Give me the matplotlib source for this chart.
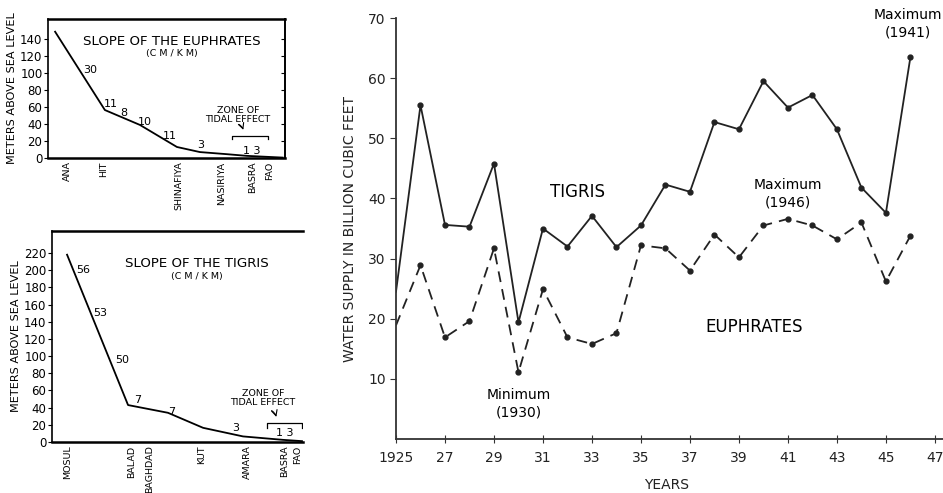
import matplotlib
matplotlib.use("Agg")
import matplotlib.pyplot as plt

# ---- main chart data (billion cubic feet) ----
years = list(range(1925, 1947))
tigris = [24.5, 55.5, 35.6, 35.3, 45.8, 19.4, 35.0, 32.0, 37.1, 31.9, 35.5,
          42.3, 41.1, 52.7, 51.5, 59.5, 55.1, 57.2, 51.5, 41.8, 37.6, 63.5]
euphrates = [18.9, 28.9, 16.9, 19.6, 31.7, 11.1, 24.9, 16.9, 15.8, 17.6, 32.2,
             31.7, 28.0, 34.0, 30.2, 35.5, 36.6, 35.5, 33.2, 36.0, 26.2, 33.8]
year_ticks = list(range(1925, 1948, 2))
year_labels = ["1925"] + [str(y)[2:] for y in year_ticks[1:]]

# ---- slope of the Euphrates (relative distance along river, metres) ----
eu_dist = [3, 24, 38.8, 54.4, 64.1, 75.5, 84, 99]
eu_elev = [149, 56.6, 39, 13, 7, 4.5, 2.5, 0.5]
eu_towns = ["ANA", "HIT", "SHINAFIYA", "NASIRIYA", "BASRA", "FAO"]
eu_town_pos = [8.4, 23.6, 55.3, 73.4, 86.5, 93.7]
eu_slopes = ["30", "11", "8", "10", "11", "3", "1 3"]
eu_slope_pos = [(18, 104), (26.5, 64), (32, 53), (41, 42), (51.5, 26), (64.5, 15), (86, 8)]

# ---- slope of the Tigris ----
ti_dist = [6, 30.3, 46.2, 60.2, 76.1, 92, 99.6]
ti_elev = [218, 43, 34, 16.5, 6.5, 2.5, 1]
ti_towns = ["MOSUL", "BALAD", "BAGHDAD", "KUT", "AMARA", "BASRA", "FAO"]
ti_town_pos = [6.4, 31.9, 39, 59.8, 77.7, 92.8, 98]
ti_slopes = ["56", "53", "50", "7", "7", "3", "1 3"]
ti_slope_pos = [(12.4, 200), (19, 150), (27.9, 96), (34, 49), (47.8, 35), (73.3, 16), (92.8, 10.5)]

W, H = 943, 493
fig = plt.figure(figsize=(W / 100, H / 100), dpi=100)
plt.rcParams['font.family'] = ['DejaVu Sans']


def px_axes(x0, y0, x1, y1):
    return fig.add_axes([x0 / W, 1 - y1 / H, (x1 - x0) / W, (y1 - y0) / H])


def slope_chart(ax, dist, elev, towns, town_pos, slopes, slope_pos, ytop, yticks,
                title, title_xy, zone_x, zone_y, zone_text_xy, arrow, right_spine):
    ax.plot(dist, elev, color="black", lw=1.3)
    ax.set_xlim(0, 100)
    ax.set_ylim(0, ytop)
    ax.set_yticks(yticks)
    ax.tick_params(axis="y", labelsize=8.5, length=3, direction="out", pad=1)
    ax.set_xticks(town_pos)
    ax.set_xticklabels(towns, rotation=90, fontsize=6.8, va="top")
    ax.tick_params(axis="x", length=0, pad=2.5)
    ax.set_ylabel("METERS ABOVE SEA LEVEL", fontsize=8.1, labelpad=2)
    for s in ["top", "bottom"]:
        ax.spines[s].set_linewidth(1.8)
    ax.spines["left"].set_linewidth(1.2)
    if right_spine:
        ax.spines["right"].set_linewidth(1.4)
        ax2 = ax.twinx()
        ax2.set_ylim(0, ytop)
        ax2.set_yticks(yticks[1:])
        ax2.tick_params(axis="y", direction="in", length=3, labelright=False)
        for s in ax2.spines.values():
            s.set_visible(False)
    else:
        ax.spines["right"].set_visible(False)
    for txt, (x, y) in zip(slopes, slope_pos):
        ax.text(x, y, txt, fontsize=8, ha="center", va="center")
    tx, ty1, ty2 = title_xy
    ax.text(tx, ty1, title, transform=ax.transAxes, fontsize=9.6,
            ha="center", va="center")
    ax.text(tx, ty2, "(C M / K M)", transform=ax.transAxes, fontsize=6.8,
            ha="center", va="center")
    zx0, zx1 = zone_x
    ax.text(zone_text_xy[0], zone_text_xy[1], "ZONE OF\nTIDAL EFFECT",
            fontsize=6.8, ha="center", va="bottom", linespacing=1.0)
    ax.plot([zx0, zx0, zx1, zx1],
            [zone_y - ytop * 0.025, zone_y, zone_y, zone_y - ytop * 0.025],
            color="black", lw=0.9)
    ax.annotate("", xy=arrow[1], xytext=arrow[0],
                arrowprops=dict(arrowstyle="->", lw=0.8, color="black",
                                connectionstyle="arc3,rad=-0.3"))


ax_e = px_axes(48, 19, 285, 158)
slope_chart(ax_e, eu_dist, eu_elev, eu_towns, eu_town_pos, eu_slopes, eu_slope_pos,
            164, list(range(0, 141, 20)), "SLOPE OF THE EUPHRATES",
            (0.523, 0.84, 0.75), (77.5, 92.8), 26, (80.2, 40),
            ((79.5, 41), (82.7, 30)), True)

ax_t = px_axes(52, 231, 303, 442)
slope_chart(ax_t, ti_dist, ti_elev, ti_towns, ti_town_pos, ti_slopes, ti_slope_pos,
            245.6, list(range(0, 221, 20)), "SLOPE OF THE TIGRIS",
            (0.578, 0.848, 0.782), (85.7, 99.6), 22, (84, 41),
            ((86.5, 38), (89.6, 26)), False)

# ---- main chart ----
ax = px_axes(396, 18, 943, 439)
ax.plot(years, tigris, color="#222222", lw=1.3, marker="o", ms=3.5,
        markevery=range(1, len(years)))
ax.plot(years, euphrates, color="#222222", lw=1.3, marker="o", ms=3.5,
        markevery=range(1, len(years)), dashes=(6, 4))
ax.set_xlim(1925, 1947.33)
ax.set_ylim(0, 70)
ax.set_yticks(range(10, 71, 10))
ax.set_xticks(year_ticks)
ax.set_xticklabels(year_labels)
ax.tick_params(labelsize=10, length=4, color="#333333", labelcolor="#222222")
ax.tick_params(axis="x", direction="inout", length=6, pad=6)
for s in ["top", "right"]:
    ax.spines[s].set_visible(False)
for s in ["left", "bottom"]:
    ax.spines[s].set_linewidth(1.3)
    ax.spines[s].set_color("#333333")
ax.set_ylabel("WATER SUPPLY IN BILLION CUBIC FEET", fontsize=10, labelpad=8,
              color="#222222")
ax.set_xlabel("YEARS", fontsize=10, color="#222222", labelpad=9, x=0.495)

ax.text(1932.4, 41.1, "TIGRIS", fontsize=12, ha="center", va="center")
ax.text(1939.6, 18.7, "EUPHRATES", fontsize=12, ha="center", va="center")
ax.text(1930.0, 5.8, "Minimum\n(1930)", fontsize=10, ha="center", va="center",
        linespacing=1.3)
ax.text(1941.0, 40.8, "Maximum\n(1946)", fontsize=10, ha="center", va="center",
        linespacing=1.3)
ax.text(1945.9, 69.1, "Maximum\n(1941)", fontsize=10, ha="center", va="center",
        linespacing=1.3)

fig.savefig("out.png", dpi=100)
